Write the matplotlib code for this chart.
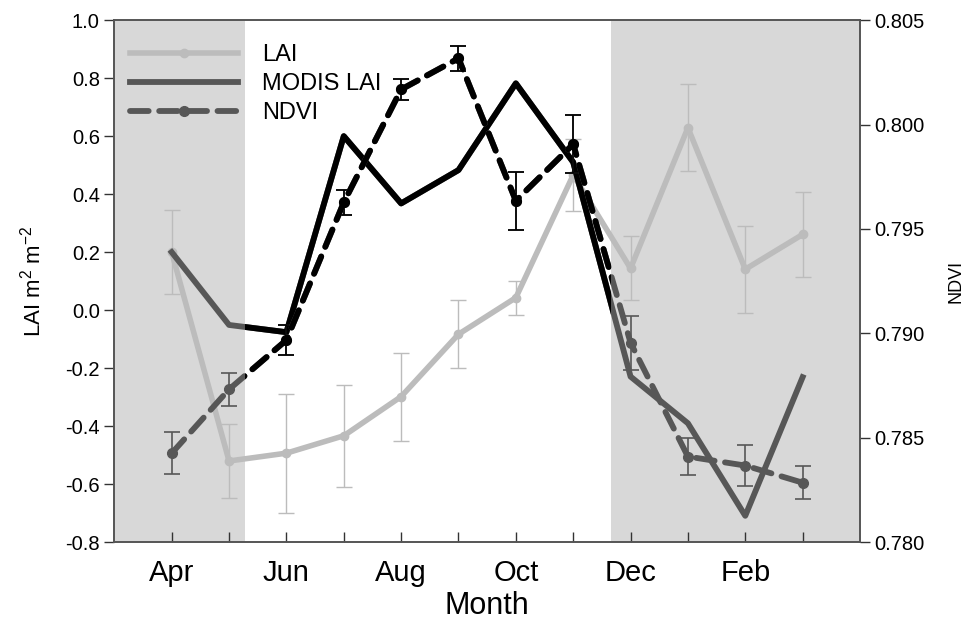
import numpy as np
import matplotlib
matplotlib.use('Agg')
import matplotlib.pyplot as plt
import matplotlib.transforms as mtransforms
from matplotlib.patches import Rectangle

plt.rcParams['font.family'] = ['Liberation Sans', 'DejaVu Sans']
plt.rcParams['mathtext.default'] = 'regular'

# datos
meses = ['Apr', 'May', 'Jun', 'Jul', 'Aug', 'Sep', 'Oct', 'Nov', 'Dec', 'Jan', 'Feb', 'Mar']
etiquetas = ['Apr', '', 'Jun', '', 'Aug', '', 'Oct', '', 'Dec', '', 'Feb', '']

lai = [0.20, -0.52, -0.493, -0.433, -0.298, -0.083, 0.043, 0.466, 0.144, 0.629, 0.141, 0.261]
lai_err = [0.145, 0.127, 0.205, 0.176, 0.152, 0.117, 0.058, 0.125, 0.11, 0.15, 0.15, 0.147]

modis_lai = [0.20, -0.051, -0.076, 0.60, 0.368, 0.483, 0.782, 0.51, -0.229, -0.39, -0.709, -0.231]

ndvi = [0.78426, 0.78732, 0.78968, 0.79627, 0.80168, 0.80317, 0.79635, 0.79906,
        0.78955, 0.78410, 0.78367, 0.78285]
ndvi_err = [0.0010, 0.0008, 0.0007, 0.0006, 0.0005, 0.0006, 0.0014, 0.0014,
            0.0013, 0.0009, 0.0010, 0.0008]

lai_ticks = [-0.8, -0.6, -0.4, -0.2, 0.0, 0.2, 0.4, 0.6, 0.8, 1.0]
ndvi_ticks = [0.780, 0.785, 0.790, 0.795, 0.800, 0.805]

# limites del periodo sin sombra (verano)
x_ini = 1.27
x_fin = 7.66

x = np.arange(len(meses))

gris_claro = '#bcbcbc'
gris_osc = '#575757'
sombra = '#d8d8d8'

fig = plt.figure(figsize=(9.69, 6.29), dpi=100)
ax = fig.add_axes([0.118, 0.138, 0.7695, 0.830])
ax2 = ax.twinx()

ax.axvspan(-1, x_ini, color=sombra, lw=0, zorder=0)
ax.axvspan(x_fin, 12, color=sombra, lw=0, zorder=0)

# LAI
ax.errorbar(x, lai, yerr=lai_err, color=gris_claro, lw=4, marker='o', ms=6,
            ecolor=gris_claro, elinewidth=1, capsize=5.5, capthick=1, zorder=2)
l_lai, = ax.plot([], [], color=gris_claro, lw=4, marker='o', ms=6)

# recorte para dibujar en negro la parte sin sombra
def rect_clip(axis):
    tr = mtransforms.blended_transform_factory(axis.transData, axis.transAxes)
    r = Rectangle((x_ini, 0), x_fin - x_ini, 1, transform=tr)
    return r

l_mod, = ax.plot(x, modis_lai, color=gris_osc, lw=4.2, zorder=3)
l_mod_k, = ax.plot(x, modis_lai, color='black', lw=4.2, zorder=3)
l_mod_k.set_clip_path(rect_clip(ax))

# NDVI
def ndvi_plot(col):
    cont = ax2.errorbar(x, ndvi, yerr=ndvi_err, color=col, lw=4.2, marker='o', ms=7,
                        ecolor=col, elinewidth=1.2, capsize=5.5, capthick=1.2)
    cont[0].set_dashes((3.2, 1.8))
    cont[0].set_dash_capstyle('round')
    return cont

c1 = ndvi_plot(gris_osc)
c2 = ndvi_plot('black')
arts = [c2[0]] + list(c2[1]) + list(c2[2])
for a in arts:
    a.set_clip_path(rect_clip(ax2))

l_ndvi, = ax.plot([], [], color=gris_osc, lw=4.2, marker='o', ms=7, dashes=(3.2, 1.8),
                  dash_capstyle='round')

ax.set_xlim(-1, 12)
ax.set_ylim(-0.8, 1.0)
ax2.set_ylim(0.780, 0.805)

ax.set_xticks(x)
ax.set_xticklabels(etiquetas, fontsize=21)
ax.set_yticks(lai_ticks)
ax.set_yticklabels(['%.1f' % v for v in lai_ticks], fontsize=14.5)
ax2.set_yticks(ndvi_ticks)
ax2.set_yticklabels(['%.3f' % v for v in ndvi_ticks], fontsize=14.5)

ax.tick_params(axis='x', direction='in', length=7, width=1, colors='#333333',
               labelcolor='black', pad=12)
ax.tick_params(axis='y', direction='out', length=7, width=1, colors='#333333',
               labelcolor='black')
ax2.tick_params(axis='y', direction='out', length=7, width=1, colors='#333333',
                labelcolor='black')
for a in (ax, ax2):
    for s in a.spines.values():
        s.set_color('#555555')
        s.set_linewidth(1.2)

ax.set_xlabel('Month', fontsize=22, labelpad=3)
ax.set_ylabel('LAI m$^2$ m$^{-2}$', fontsize=16, labelpad=14)
ax2.set_ylabel('NDVI', fontsize=13, labelpad=16)

ax.legend([l_lai, l_mod, l_ndvi], ['LAI', 'MODIS LAI', 'NDVI'], loc='upper left',
          bbox_to_anchor=(-0.008, 0.995), frameon=False, fontsize=17, handlelength=4.6,
          handletextpad=1.0, labelspacing=0.3)

fig.savefig('out.png', dpi=100)
